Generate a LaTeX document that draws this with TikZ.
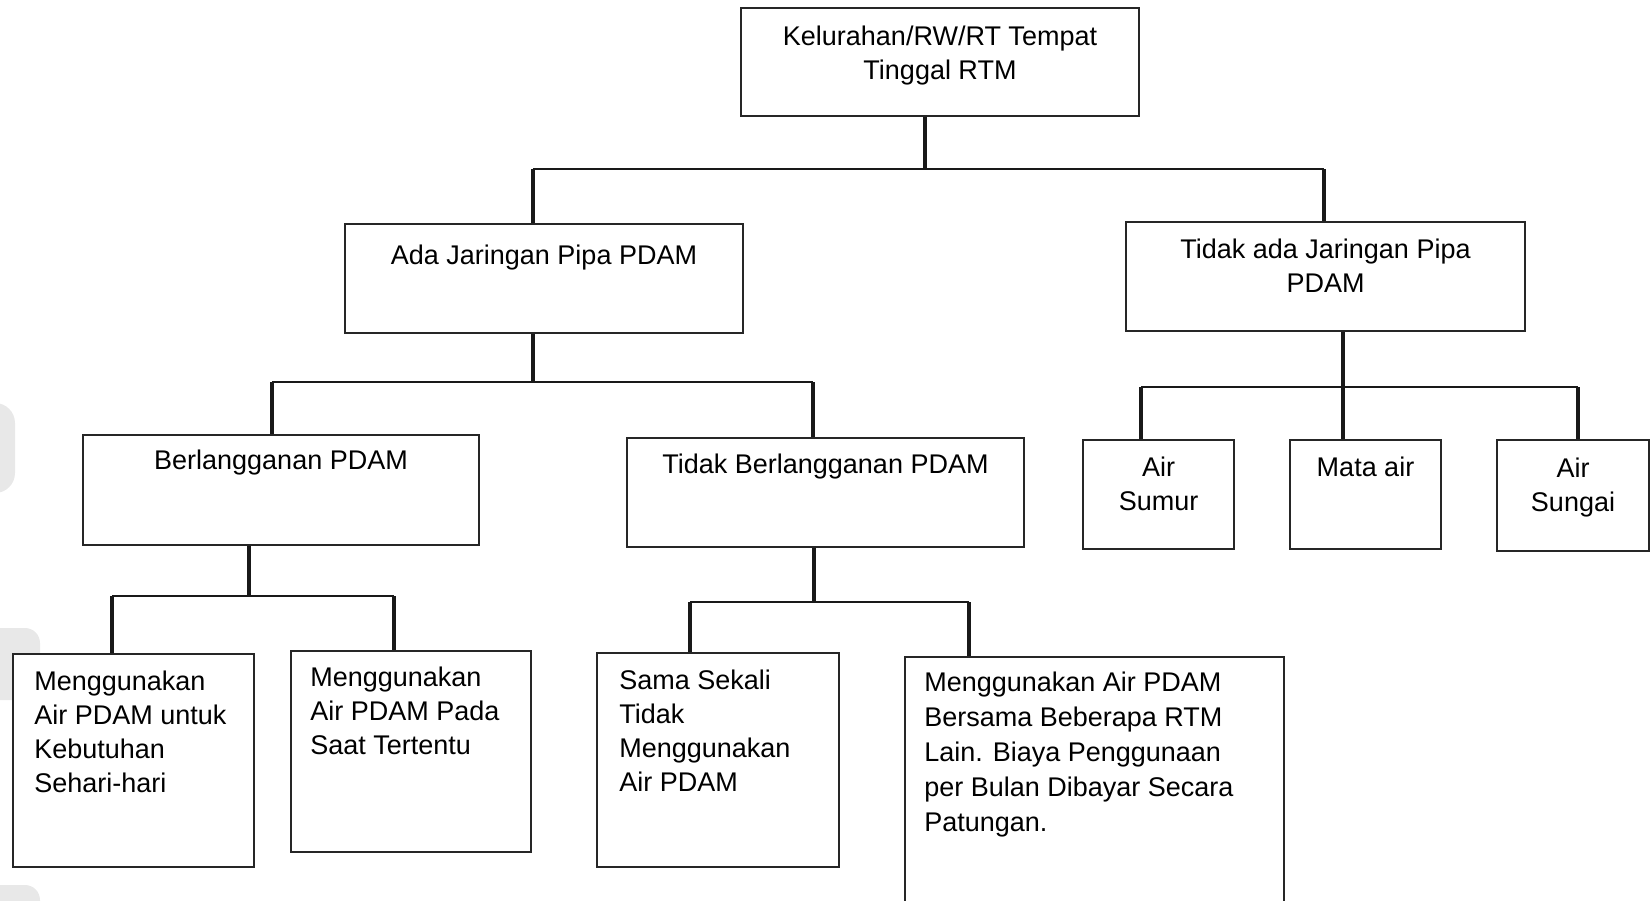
\documentclass[tikz,border=0pt]{standalone}
\usepackage{fontspec}
\setmainfont{Liberation Sans}
\begin{document}
\begin{tikzpicture}[x=1pt,y=-1pt,
  box/.style={draw=black!85, line width=1.8pt, inner sep=0pt, fill=white},
  txt/.style={inner sep=0pt, font=\fontsize{27}{34}\selectfont, align=center, anchor=north},
  ltxt/.style={inner sep=0pt, font=\fontsize{27}{34}\selectfont, align=left, anchor=north west},
  vline/.style={line width=3.2pt, black!90},
  hline/.style={line width=2.4pt, black!90},
  ghost/.style={fill=black!9, draw=none}]
\useasboundingbox (0,0) rectangle (1652,900);
% faint background shapes at left edge
\fill[ghost, rounded corners=20pt] (-40,403) rectangle (15,493);
\fill[ghost, rounded corners=15pt] (-40,628) rectangle (40,700);
\fill[ghost, rounded corners=15pt] (-40,885) rectangle (40,950);
% boxes
\node[box, minimum width=398pt, minimum height=108pt] (top) at (940,62) {};
\node[box, minimum width=398pt, minimum height=109pt] (ada) at (544,278.5) {};
\node[box, minimum width=399pt, minimum height=109pt] (tada) at (1325.5,276.5) {};
\node[box, minimum width=396pt, minimum height=110pt] (berl) at (281,490) {};
\node[box, minimum width=397pt, minimum height=109pt] (tberl) at (825.5,492.5) {};
\node[box, minimum width=151pt, minimum height=109pt] (sumur) at (1158.5,494.5) {};
\node[box, minimum width=151pt, minimum height=109pt] (mata) at (1365.5,494.5) {};
\node[box, minimum width=152pt, minimum height=111pt] (sungai) at (1573,495.5) {};
\node[box, minimum width=241pt, minimum height=213pt] (b1) at (133.5,760.5) {};
\node[box, minimum width=240pt, minimum height=201pt] (b2) at (411,751.5) {};
\node[box, minimum width=242pt, minimum height=214pt] (sama) at (718,760) {};
\node[box, minimum width=379pt, minimum height=273pt] (last) at (1094.5,793.5) {};
% texts
\node[txt] (ttop) at ([yshift=-19pt]top.north) {Kelurahan/RW/RT Tempat\\Tinggal RTM};
\node[txt] (tada1) at ([yshift=-22pt]ada.north) {Ada Jaringan Pipa PDAM};
\node[txt] (ttada) at ([yshift=-18pt]tada.north) {Tidak ada Jaringan Pipa\\PDAM};
\node[txt] (tberl1) at ([yshift=-16pt]berl.north) {Berlangganan PDAM};
\node[txt] (ttberl) at ([yshift=-17pt]tberl.north) {Tidak Berlangganan PDAM};
\node[txt] (tsumur) at ([yshift=-18pt]sumur.north) {Air\\Sumur};
\node[txt] (tmata) at ([yshift=-18pt]mata.north) {Mata air};
\node[txt] (tsungai) at ([yshift=-19pt]sungai.north) {Air\\Sungai};
\node[ltxt] (tb1) at ([xshift=22pt,yshift=-18pt]b1.north west) {Menggunakan\\Air PDAM untuk\\Kebutuhan\\Sehari-hari};
\node[ltxt] (tb2) at ([xshift=20pt,yshift=-17pt]b2.north west) {Menggunakan\\Air PDAM Pada\\Saat Tertentu};
\node[ltxt] (tsama) at ([xshift=23pt,yshift=-18pt]sama.north west) {Sama Sekali\\Tidak\\Menggunakan\\Air PDAM};
\node[ltxt, font=\fontsize{27}{35}\selectfont] (tlast) at ([xshift=20pt,yshift=-16pt]last.north west) {Menggunakan Air PDAM\\Bersama Beberapa RTM\\Lain. Biaya Penggunaan\\per Bulan Dibayar Secara\\Patungan.};
% junctions
\coordinate (j0) at (925,169);
\coordinate (j0L) at (533,169);
\coordinate (j0R) at (1324,169);
\coordinate (j1) at (533,382);
\coordinate (j1L) at (272,382);
\coordinate (j1R) at (813,382);
\coordinate (j2) at (1343,387);
\coordinate (j2L) at (1141,387);
\coordinate (j2R) at (1578,387);
\coordinate (j3) at (249,596);
\coordinate (j3L) at (112,596);
\coordinate (j3R) at (394,596);
\coordinate (j4) at (814,602);
\coordinate (j4L) at (690,602);
\coordinate (j4R) at (969,602);
% connectors level 1
\draw[vline] (top.south -| j0) -- (j0);
\draw[hline] (j0L) -- (j0R);
\draw[vline] (j0L) -- (j0L |- ada.north);
\draw[vline] (j0R) -- (j0R |- tada.north);
% level 2 left
\draw[vline] (ada.south -| j1) -- (j1);
\draw[hline] (j1L) -- (j1R);
\draw[vline] (j1L) -- (j1L |- berl.north);
\draw[vline] (j1R) -- (j1R |- tberl.north);
% level 2 right
\draw[vline] (tada.south -| j2) -- (j2);
\draw[hline] (j2L) -- (j2R);
\draw[vline] (j2L) -- (j2L |- sumur.north);
\draw[vline] (j2) -- (j2 |- mata.north);
\draw[vline] (j2R) -- (j2R |- sungai.north);
% level 3 berlangganan
\draw[vline] (berl.south -| j3) -- (j3);
\draw[hline] (j3L) -- (j3R);
\draw[vline] (j3L) -- (j3L |- b1.north);
\draw[vline] (j3R) -- (j3R |- b2.north);
% level 3 tidak berlangganan
\draw[vline] (tberl.south -| j4) -- (j4);
\draw[hline] (j4L) -- (j4R);
\draw[vline] (j4L) -- (j4L |- sama.north);
\draw[vline] (j4R) -- (j4R |- last.north);
\end{tikzpicture}
\end{document}
